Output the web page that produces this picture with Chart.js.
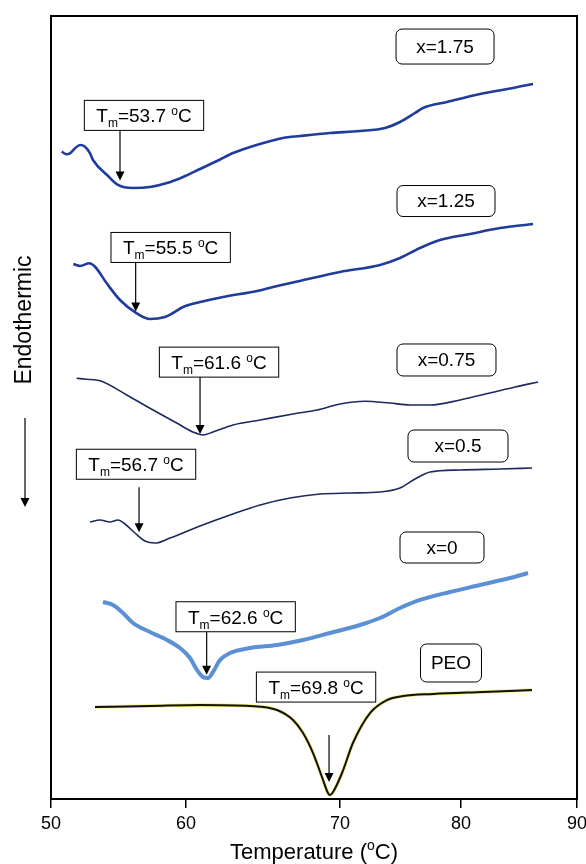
<!DOCTYPE html>
<html>
<head>
<meta charset="utf-8">
<script src="https://cdn.jsdelivr.net/npm/chart.js@4.4.1/dist/chart.umd.min.js"></script>
<style>
  html, body { margin: 0; padding: 0; background: #fff; }
</style>
</head>
<body>
<canvas id="dsc" width="586" height="864"></canvas>
<script>
// x axis of the original figure is not evenly spaced, so ticks carry their own positions
const tickTemps = [50, 60, 70, 80, 90];
const tickFrac = [0, 0.2567, 0.5494, 0.7795, 1];

const samples = ["x=1.75", "x=1.25", "x=0.75", "x=0.5", "x=0", "PEO"];
const meltTemps = ["53.7", "55.5", "61.6", "56.7", "62.6", "69.8"];

// heat flow in arbitrary units (curves offset vertically), vs temperature in °C
const t175 = [50.79, 51.16, 51.41, 51.78, 52.15, 52.52, 52.89, 53.11, 54.15, 54.96, 56.07, 57.33, 58.59, 59.78, 60.91, 62.01, 63.05, 64.16, 65.26, 66.30, 67.40, 69.35, 71.65, 73.72, 74.96, 76.20, 76.86, 78.84, 81.64, 84.48, 86.21];
const h175 = [82.67, 82.34, 82.46, 83.10, 83.52, 83.31, 82.46, 81.61, 79.69, 78.42, 78.03, 78.16, 78.67, 79.44, 80.46, 81.48, 82.50, 83.27, 83.91, 84.42, 84.67, 85.06, 85.31, 85.70, 86.46, 87.61, 88.25, 89.02, 90.04, 90.80, 91.32];

const t125 = [51.65, 52.15, 52.84, 53.26, 54.13, 55.11, 56.35, 57.33, 58.44, 59.04, 59.78, 60.91, 62.40, 64.61, 65.65, 67.40, 70.00, 73.31, 74.96, 76.61, 78.26, 80.78, 83.36, 86.21];
const h125 = [68.33, 68.07, 68.42, 67.98, 65.86, 63.73, 62.03, 61.30, 61.56, 62.07, 62.84, 63.47, 64.11, 64.88, 65.39, 66.16, 67.31, 68.20, 69.09, 70.37, 71.39, 72.16, 72.92, 73.44];

const t075 = [51.90, 52.64, 53.63, 55.61, 57.56, 59.31, 60.45, 61.10, 61.75, 63.05, 64.81, 66.95, 68.51, 70.00, 72.07, 74.13, 75.79, 77.44, 79.92, 82.50, 84.66, 86.64];
const h075 = [53.73, 53.60, 53.42, 51.60, 49.68, 48.02, 46.87, 46.49, 46.87, 47.77, 48.40, 49.17, 49.68, 50.45, 50.80, 50.57, 50.32, 50.32, 50.96, 51.85, 52.62, 53.26];

const t050 = [52.89, 53.63, 54.37, 54.96, 55.48, 56.22, 56.96, 57.70, 58.81, 60.91, 62.86, 64.81, 66.75, 68.70, 70.83, 73.31, 74.96, 76.20, 77.44, 79.92, 83.36, 86.12];
const h050 = [35.38, 35.63, 35.38, 35.63, 35.12, 33.97, 32.95, 32.69, 33.33, 34.87, 36.27, 37.55, 38.44, 38.95, 39.08, 39.21, 39.72, 40.87, 41.76, 42.02, 42.15, 42.27];

const t000 = [53.85, 54.59, 55.33, 56.07, 57.33, 58.59, 59.56, 60.26, 60.71, 61.10, 61.43, 61.75, 62.21, 62.86, 64.16, 65.91, 67.60, 69.35, 71.65, 73.31, 74.96, 76.61, 79.09, 81.64, 84.22, 85.78];
const h000 = [25.16, 24.78, 23.75, 22.48, 21.33, 20.31, 19.28, 18.01, 16.48, 15.58, 15.45, 16.22, 17.75, 18.65, 19.28, 19.67, 20.31, 21.20, 22.22, 23.12, 24.39, 25.42, 26.44, 27.33, 28.22, 28.86];

const tPeo = [53.26, 57.33, 60.91, 64.16, 65.91, 66.95, 67.60, 68.25, 68.83, 69.22, 69.35, 69.55, 70.17, 71.07, 72.48, 73.88, 75.21, 77.69, 81.90, 86.12];
const hPeo = [11.75, 11.88, 12.01, 11.88, 11.37, 10.09, 8.43, 5.87, 2.81, 0.77, 0.51, 0.89, 3.32, 7.15, 10.98, 12.64, 13.15, 13.41, 13.67, 13.92];

const temps = [t175, t125, t075, t050, t000, tPeo];
const flows = [h175, h125, h075, h050, h000, hPeo];

// where the arrows point (°C on the drawn axis) and how the boxes sit around them
const arrowAt = [55.11, 56.27, 60.91, 56.52, 61.34, 69.29];
const tmNotes = [
  { len: 50, gap: 5, dx: 24, lift: 0 },
  { len: 49, gap: 1, dx: 35, lift: 0 },
  { len: 57, gap: 0, dx: 19, lift: 0 },
  { len: 45, gap: 4, dx: -3, lift: 8 },
  { len: 43, gap: 3, dx: 29, lift: 0 },
  { len: 47, gap: 12, dx: -13, lift: 33 },
];
const nameBoxes = [
  { t: 78.68, v: 96.10, w: 98, h: 35 },
  { t: 78.76, v: 76.37, w: 98, h: 31 },
  { t: 78.80, v: 56.07, w: 99, h: 32 },
  { t: 79.75, v: 45.08, w: 100, h: 32 },
  { t: 78.43, v: 32.12, w: 84, h: 31 },
  { t: 79.17, v: 17.37, w: 61, h: 38 },
];

const FONT = "'Liberation Sans', Arial, sans-serif";

class DscTempScale extends Chart.LinearScale {
  getPixelForValue(value) {
    if (value === null || isNaN(value)) return NaN;
    let i = 0;
    while (i < tickTemps.length - 2 && value > tickTemps[i + 1]) i++;
    const f = tickFrac[i] + (value - tickTemps[i]) / (tickTemps[i + 1] - tickTemps[i]) * (tickFrac[i + 1] - tickFrac[i]);
    return this.getPixelForDecimal(f);
  }
  getValueForPixel(pixel) {
    const f = this.getDecimalForPixel(pixel);
    let i = 0;
    while (i < tickFrac.length - 2 && f > tickFrac[i + 1]) i++;
    return tickTemps[i] + (f - tickFrac[i]) / (tickFrac[i + 1] - tickFrac[i]) * (tickTemps[i + 1] - tickTemps[i]);
  }
}
DscTempScale.id = "dscTemp";
DscTempScale.defaults = Chart.LinearScale.defaults;
Chart.register(DscTempScale);

function flowAt(s, t) {
  const ts = temps[s], hs = flows[s];
  for (let i = 1; i < ts.length; i++) {
    if (t <= ts[i]) {
      const k = (t - ts[i - 1]) / (ts[i] - ts[i - 1]);
      return hs[i - 1] + k * (hs[i] - hs[i - 1]);
    }
  }
  return hs[hs.length - 1];
}

// draw pieces of text with sub/superscripts, returns width
function richText(ctx, parts, x, y, measureOnly) {
  let w = 0;
  parts.forEach(([txt, size, dy]) => {
    ctx.font = size + "px " + FONT;
    if (!measureOnly) ctx.fillText(txt, x + w, y + dy);
    w += ctx.measureText(txt).width;
  });
  return w;
}

function arrowDown(ctx, x, y0, y1) {
  ctx.beginPath();
  ctx.moveTo(x, y0);
  ctx.lineTo(x, y1 - 8);
  ctx.stroke();
  ctx.beginPath();
  ctx.moveTo(x - 4.5, y1 - 9);
  ctx.lineTo(x + 4.5, y1 - 9);
  ctx.lineTo(x, y1);
  ctx.closePath();
  ctx.fill();
}

const decor = {
  id: "decor",
  afterDraw(chart) {
    const { ctx, chartArea: a, scales } = chart;
    const xs = scales.x, ys = scales.y;
    ctx.save();
    ctx.strokeStyle = "#000";
    ctx.fillStyle = "#000";
    ctx.lineWidth = 2;
    ctx.strokeRect(a.left, a.top, a.right - a.left, a.bottom - a.top);

    // y label with arrow
    ctx.save();
    ctx.translate(25, 320);
    ctx.rotate(-Math.PI / 2);
    ctx.font = "23px " + FONT;
    ctx.textAlign = "center";
    ctx.textBaseline = "middle";
    ctx.fillText("Endothermic", 0, 0);
    ctx.restore();
    ctx.lineWidth = 1.2;
    arrowDown(ctx, 25, 418, 507);

    // x title
    ctx.textBaseline = "alphabetic";
    ctx.textAlign = "left";
    const title = [["Temperature (", 22, 0], ["o", 14, -9], ["C)", 22, 0]];
    const tw = richText(ctx, title, 0, 0, true);
    richText(ctx, title, (a.left + a.right) / 2 - tw / 2, 859, false);

    // sample name boxes
    ctx.lineWidth = 1;
    samples.forEach((name, i) => {
      const b = nameBoxes[i];
      const cx = xs.getPixelForValue(b.t), cy = ys.getPixelForValue(b.v);
      ctx.fillStyle = "#fff";
      ctx.beginPath();
      ctx.roundRect(cx - b.w / 2, cy - b.h / 2, b.w, b.h, 6);
      ctx.fill();
      ctx.stroke();
      ctx.fillStyle = "#000";
      ctx.font = "19px " + FONT;
      ctx.textAlign = "center";
      ctx.textBaseline = "middle";
      ctx.fillText(name, cx, cy + 1);
    });

    // melting point boxes and arrows
    ctx.textAlign = "left";
    ctx.textBaseline = "alphabetic";
    meltTemps.forEach((tm, i) => {
      const n = tmNotes[i];
      const x = xs.getPixelForValue(arrowAt[i]);
      const tip = ys.getPixelForValue(flowAt(i, arrowAt[i])) - n.gap;
      const top = tip - n.len;
      ctx.lineWidth = 1.2;
      ctx.fillStyle = "#000";
      arrowDown(ctx, x, top, tip);
      const parts = [["T", 19, 0], ["m", 12, 5], ["=" + tm + " ", 19, 0], ["o", 12, -7], ["C", 19, 0]];
      const w = richText(ctx, parts, 0, 0, true) + 24, h = 30;
      const bx = x + n.dx - w / 2, by = top - n.lift - h;
      ctx.fillStyle = "#fff";
      ctx.fillRect(bx, by, w, h);
      ctx.lineWidth = 1;
      ctx.strokeRect(bx, by, w, h);
      ctx.fillStyle = "#000";
      richText(ctx, parts, bx + 12, by + 22, false);
    });
    ctx.restore();
  },
};

const lineStyles = [
  { color: "#1f3c9c", width: 2.6 },
  { color: "#1f3c9c", width: 2.6 },
  { color: "#1b2a5e", width: 1.6 },
  { color: "#1b2a5e", width: 1.6 },
  { color: "#5b8fd6", width: 4 },
  { color: "#111111", width: 2 },
];

const datasets = samples.map((name, i) => ({
  label: name,
  data: temps[i].map((t, j) => ({ x: t, y: flows[i][j] })),
  borderColor: lineStyles[i].color,
  borderWidth: lineStyles[i].width,
  pointRadius: 0,
  fill: false,
  cubicInterpolationMode: "monotone",
}));
// faint yellow edge seen on the PEO trace (last index -> drawn underneath)
datasets.push({
  label: "PEO edge",
  data: tPeo.map((t, j) => ({ x: t, y: hPeo[j] })),
  borderColor: "rgba(235, 225, 60, 0.7)",
  borderWidth: 3.4,
  pointRadius: 0,
  fill: false,
  cubicInterpolationMode: "monotone",
});

new Chart(document.getElementById("dsc").getContext("2d"), {
  type: "line",
  data: { datasets },
  options: {
    responsive: false,
    animation: false,
    layout: { padding: { left: 51, right: 9, top: 16, bottom: 0 } },
    plugins: { legend: { display: false }, tooltip: { enabled: false } },
    scales: {
      x: {
        type: "dscTemp",
        min: 50,
        max: 90,
        afterBuildTicks: (scale) => { scale.ticks = tickTemps.map((v) => ({ value: v })); },
        afterFit: (scale) => { scale.height = 65; scale.paddingLeft = 0; scale.paddingRight = 0; },
        border: { display: true, color: "#000", width: 2 },
        grid: { drawOnChartArea: false, color: "#000", lineWidth: 1.5, tickLength: 9 },
        ticks: { color: "#000", font: { family: FONT, size: 18 }, padding: 5, maxRotation: 0 },
      },
      y: {
        display: false,
        min: 0,
        max: 100,
      },
    },
  },
  plugins: [decor],
});
</script>
</body>
</html>
